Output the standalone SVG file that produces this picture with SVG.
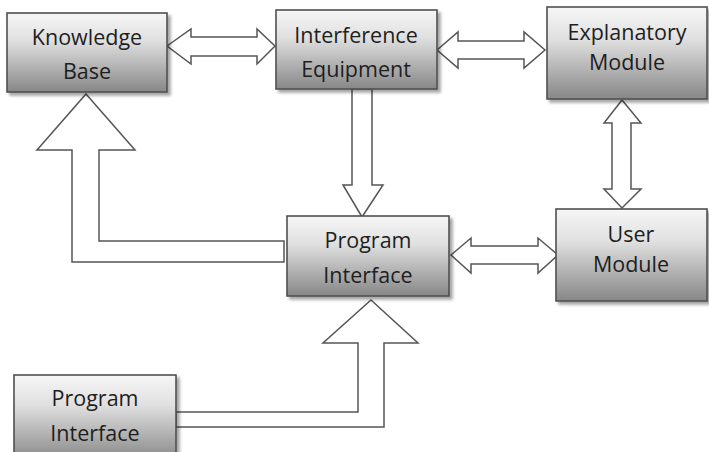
<svg xmlns="http://www.w3.org/2000/svg" width="709" height="452" viewBox="0 0 709 452">
  <defs>
    <linearGradient id="boxFill" x1="0" y1="0" x2="0" y2="1">
      <stop offset="0" stop-color="#f6f6f6"/>
      <stop offset="0.35" stop-color="#e0e0e0"/>
      <stop offset="1" stop-color="#878787"/>
    </linearGradient>
    <filter id="shadow" x="-10%" y="-10%" width="125%" height="130%">
      <feDropShadow dx="3" dy="3" stdDeviation="1.8" flood-color="#000" flood-opacity="0.35"/>
    </filter>
  </defs>
  <style>
    .box { fill: url(#boxFill); stroke: #505050; stroke-width: 1.6; filter: url(#shadow); }
    .label { font-family: "Open Sans", "Liberation Sans", sans-serif; font-size: 21.5px; fill: #1e1e1e; text-anchor: middle; }
    .arrow { fill: #fff; stroke: #555; stroke-width: 1.5; stroke-linejoin: miter; }
  </style>
  <rect width="709" height="452" fill="#fff"/>

  <!-- block arrows between modules -->
  <g id="connectors">
    <polygon class="arrow" points="167,46 191,29 191,37 257,37 257,29 275,46 257,64 257,56 191,56 191,64"/>
    <polygon class="arrow" points="437,50 458,32 458,41 524,41 524,32 545,50 524,68 524,59 458,59 458,68"/>
    <polygon class="arrow" points="451,255 471,238 471,246 538,246 538,238 558,255 538,273 538,264 471,264 471,273"/>
    <polygon class="arrow" points="622,100 641,123 631,123 631,189 641,189 622,208 604,189 612,189 612,123 604,123"/>
    <polygon class="arrow" points="352,89 372,89 372,185 383,185 362,217 343,185 352,185"/>
    <polygon class="arrow" points="86,94 135,150 99,150 99,241 284,241 284,262 72,262 72,150 37,150"/>
    <polygon class="arrow" points="371,300 418,343 384,343 384,427 176,427 176,412 358,412 358,343 323,343"/>
  </g>

  <g id="knowledge-base">
    <rect class="box" x="7" y="13" width="160" height="79"/>
    <text class="label" x="87" y="45">Knowledge</text>
    <text class="label" x="87" y="79">Base</text>
  </g>
  <g id="interference-equipment">
    <rect class="box" x="276" y="10" width="161" height="79"/>
    <text class="label" x="356" y="43">Interference</text>
    <text class="label" x="356" y="77">Equipment</text>
  </g>
  <g id="explanatory-module">
    <rect class="box" x="547" y="7" width="160" height="92"/>
    <text class="label" x="627" y="40">Explanatory</text>
    <text class="label" x="627" y="70">Module</text>
  </g>
  <g id="program-interface">
    <rect class="box" x="287" y="216" width="162" height="80"/>
    <text class="label" x="368" y="248">Program</text>
    <text class="label" x="368" y="283">Interface</text>
  </g>
  <g id="user-module">
    <rect class="box" x="556" y="209" width="151" height="92"/>
    <text class="label" x="631" y="242">User</text>
    <text class="label" x="631" y="272">Module</text>
  </g>
  <g id="program-interface-input">
    <rect class="box" x="14" y="375" width="162" height="86"/>
    <text class="label" x="95" y="406">Program</text>
    <text class="label" x="95" y="441">Interface</text>
  </g>
</svg>
